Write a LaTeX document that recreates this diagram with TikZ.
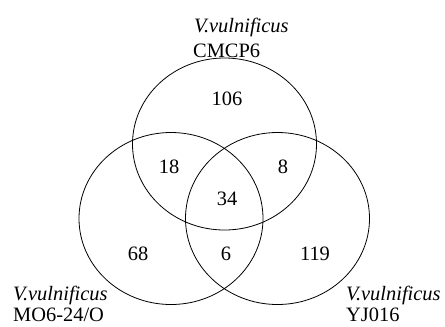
\documentclass[tikz,border=0pt]{standalone}
\usepackage{fontspec}
\setmainfont{Liberation Serif}
\usetikzlibrary{shapes.geometric}
\newcommand{\vv}{\textit{V.vulnificus}}

\begin{document}
\begin{tikzpicture}[x=1bp,y=-1bp,font=\fontsize{20.5}{24}\selectfont]
 \tikzset{set/.style={draw,ellipse,line width=0.8bp,inner sep=0pt,outer sep=0pt,
   minimum width=184bp,minimum height=172bp},
   count/.style={inner sep=0pt},
   tag/.style={anchor=base west,inner sep=0pt}}
 \useasboundingbox (0,0) rectangle (445,326);
 \node[set] (CM) at (224.5,144) {};
 \node[set] (MO) at (171,218.5) {};
 \node[set] (YJ) at (277.5,218.5) {};

 \node[count] (n106) at (227,98.5) {106};
 \node[count] (n18) at (169,167) {18};
 \node[count] (n8) at (283,167) {8};
 \node[count] (n34) at (227,199) {34};
 \node[count] (n68) at (138,254) {68};
 \node[count] (n6) at (226,254) {6};
 \node[count] (n119) at (315,254) {119};

 \node[tag] (CMsp) at (194,32) {\vv};
 \node[tag] (CMname) at (193,57) {CMCP6};
 \node[tag] (MOsp) at (13,300) {\vv};
 \node[tag] (MOname) at (13,321) {MO6-24/O};
 \node[tag] (YJsp) at (346,300) {\vv};
 \node[tag] (YJname) at (346,321) {YJ016};
\end{tikzpicture}
\end{document}
